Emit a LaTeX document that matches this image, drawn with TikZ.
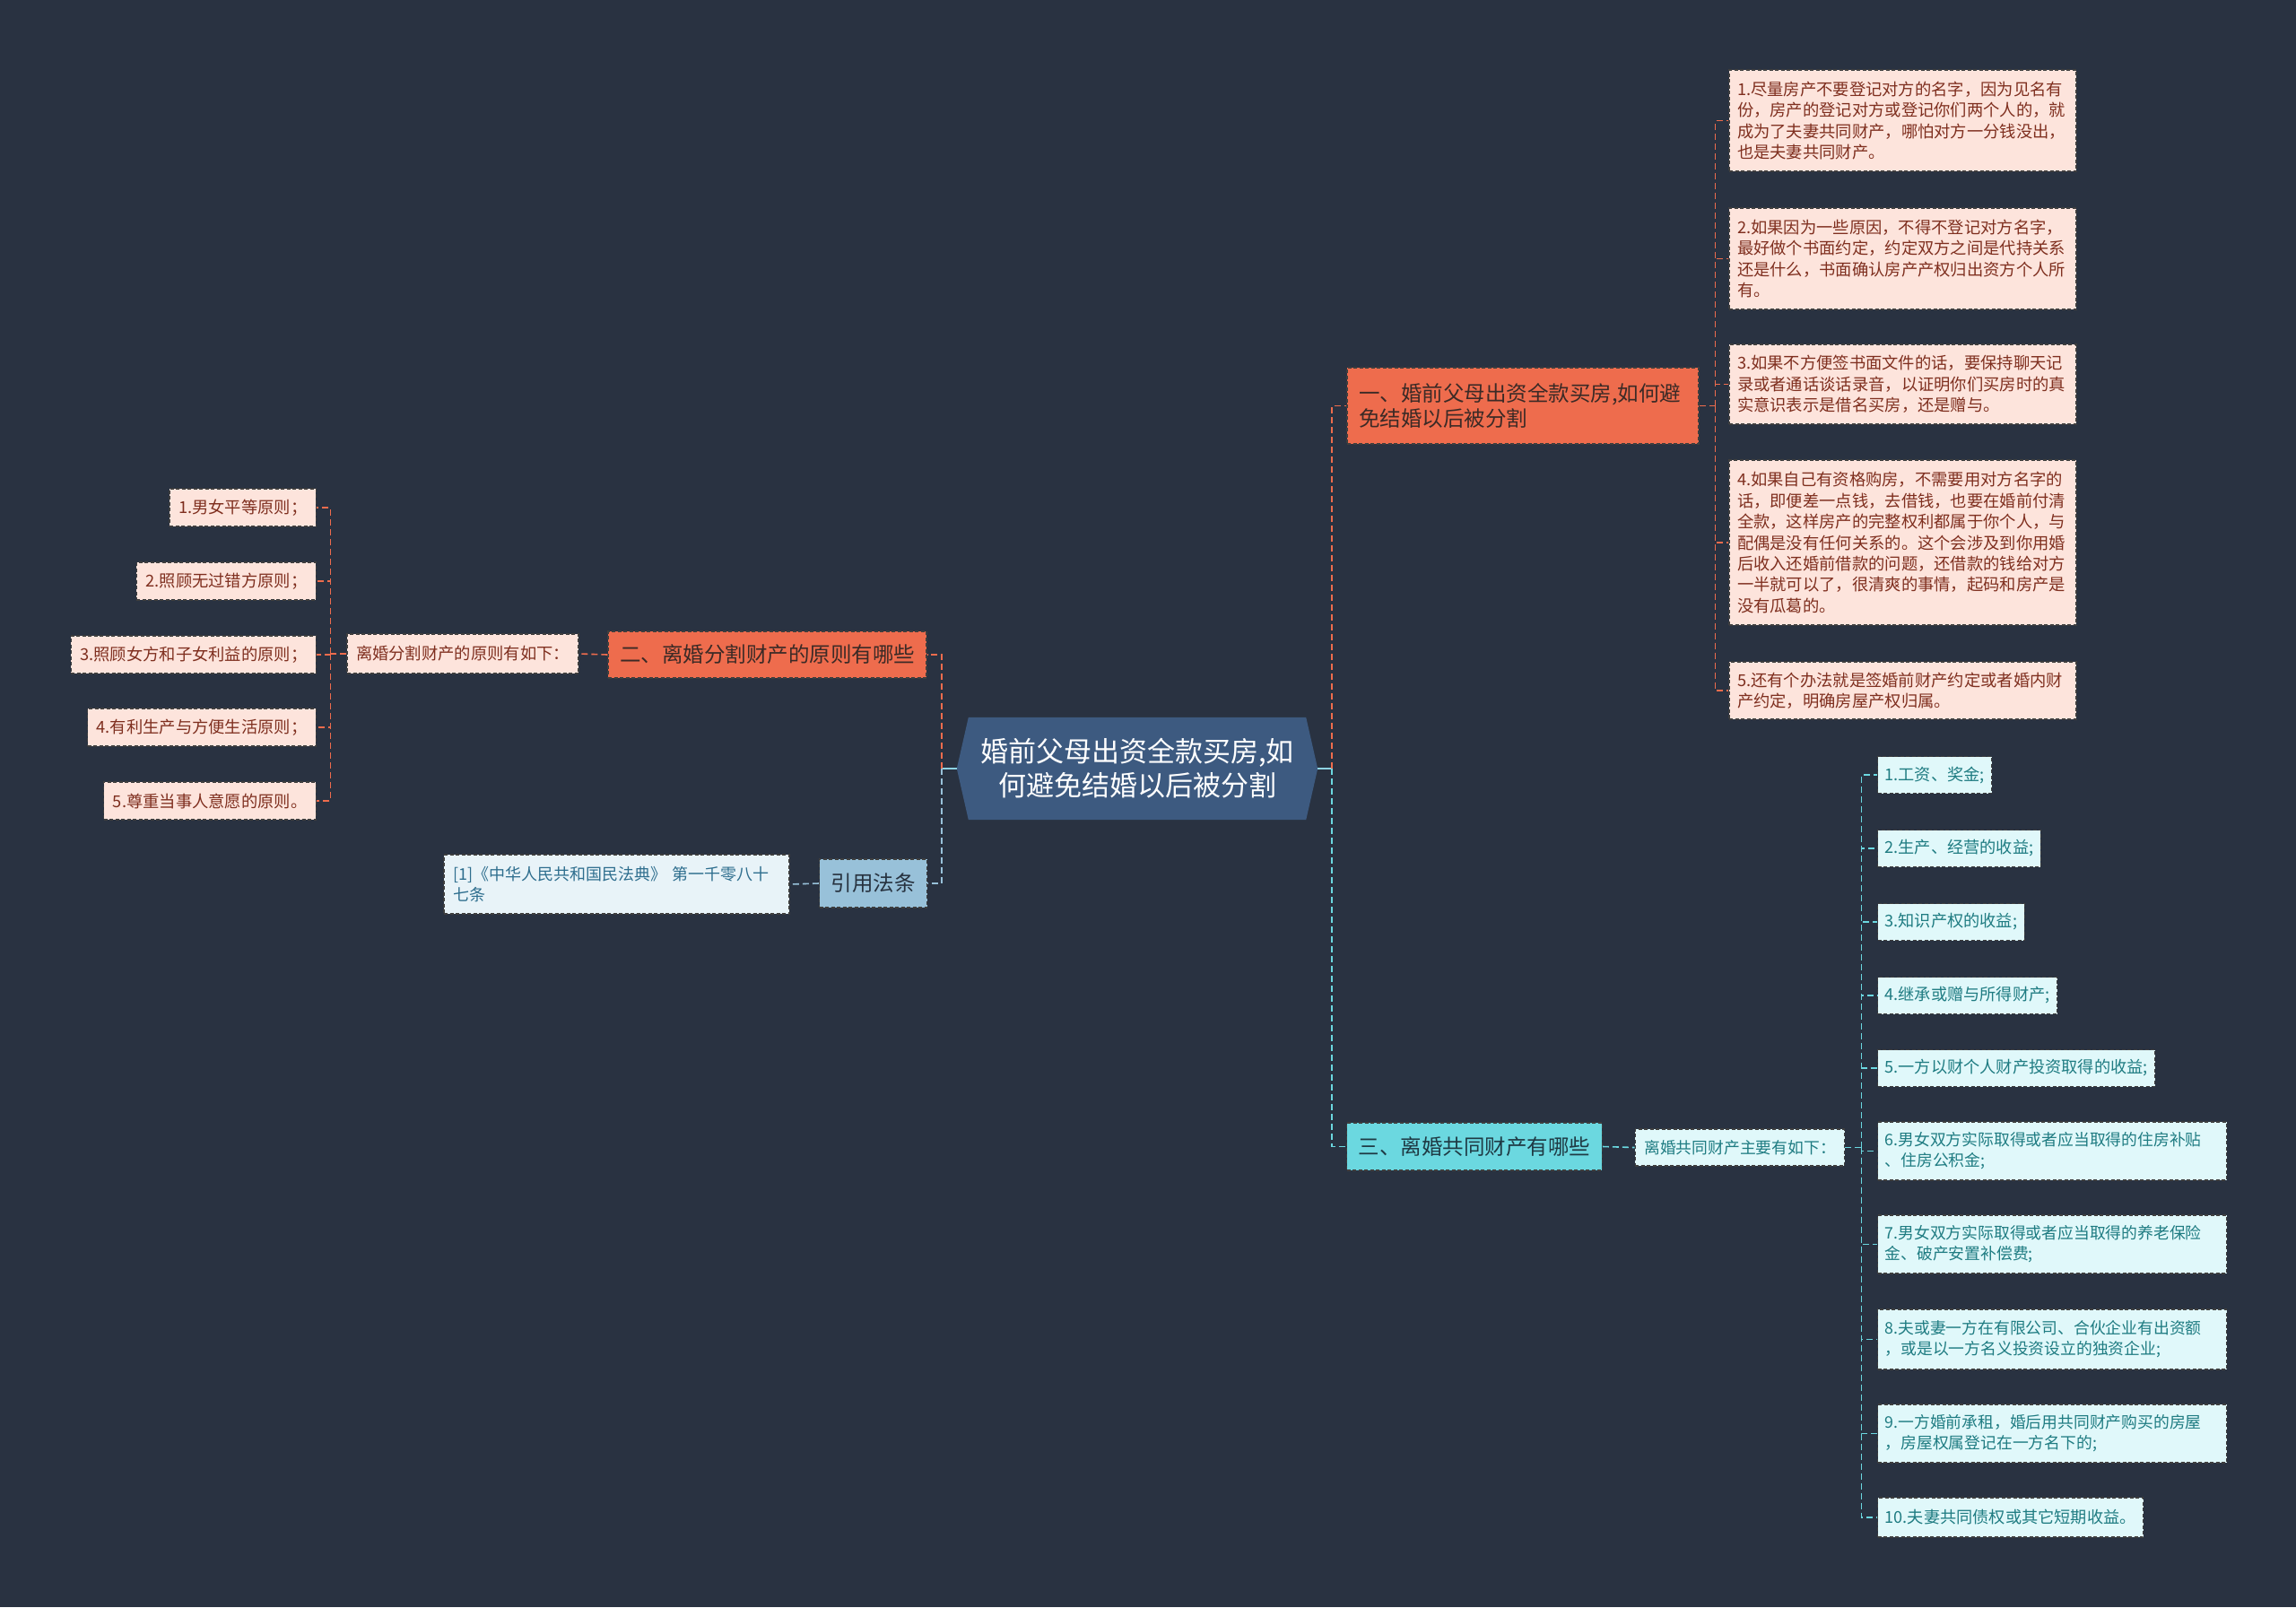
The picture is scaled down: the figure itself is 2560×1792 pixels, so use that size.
\documentclass[tikz,border=0pt]{standalone}
\usepackage{fontspec}
\setmainfont{Noto Sans CJK SC}
\usetikzlibrary{backgrounds,calc}
\definecolor{bgc}{HTML}{293241}
\definecolor{hexc}{HTML}{3D5A80}
\definecolor{orc}{HTML}{EE6C4D}
\definecolor{pinkc}{HTML}{FDE4DC}
\definecolor{pinktxt}{HTML}{7F2F1F}
\definecolor{ortxt}{HTML}{3B2A26}
\definecolor{cyc}{HTML}{6BD8E0}
\definecolor{cytxt}{HTML}{1F3A44}
\definecolor{lcyc}{HTML}{E0F8FA}
\definecolor{lcytxt}{HTML}{1F7C82}
\definecolor{blc}{HTML}{98C1D9}
\definecolor{bltxt}{HTML}{27323F}
\definecolor{citec}{HTML}{E8F3F8}
\definecolor{citetxt}{HTML}{2E6E8E}
\definecolor{bordc}{HTML}{3E3E3E}
\definecolor{hexln}{HTML}{8ED3E3}
\begin{document}
\begin{tikzpicture}[x=1pt,y=-1pt,
  box/.style={draw=bordc, dash pattern=on 4pt off 2.5pt, line width=1.2pt, inner ysep=0pt, inner xsep=10pt, align=left},
  pinkbox/.style={box, fill=pinkc, text=pinktxt, font=\fontsize{18.3}{23.4}\selectfont},
  lpink/.style={pinkbox, anchor=east, minimum height=42pt},
  rpink/.style={pinkbox, inner xsep=9pt, text width=369pt},
  lcybox/.style={box, fill=lcyc, text=lcytxt, font=\fontsize{18.2}{23}\selectfont, anchor=west, inner xsep=8pt},
  lcymulti/.style={lcybox, font=\fontsize{17.8}{23}\selectfont, text width=373pt},
  mainbox/.style={box, inner xsep=13pt, font=\fontsize{23.5}{28}\selectfont},
  hexnode/.style={inner sep=0pt, minimum width=376pt, minimum height=114pt, text=white, align=center, font=\fontsize{31}{38}\selectfont},
  oline/.style={draw=orc, line width=1.6pt, dash pattern=on 7pt off 4pt},
  cline/.style={draw=cyc, line width=1.6pt, dash pattern=on 7pt off 4pt},
  bline/.style={draw=blc, line width=1.6pt, dash pattern=on 7pt off 4pt},
  hexline/.style={draw=hexln, line width=2pt}
]
\useasboundingbox (0,0) rectangle (2560,1792);

% central topic
\node[hexnode] (c) at (1268,857) {婚前父母出资全款买房,如\\何避免结婚以后被分割};

% first-level topics
\node[mainbox, fill=orc, text=ortxt, text width=366pt, minimum height=85pt] (n1) at (1698,452.5)
  {一、婚前父母出资全款买房,如何避\\免结婚以后被分割};
\node[mainbox, fill=orc, text=ortxt, minimum height=52pt] (n2) at (855.5,730) {二、离婚分割财产的原则有哪些};
\node[mainbox, fill=cyc, text=cytxt, minimum height=53pt] (n3) at (1644,1278.5) {三、离婚共同财产有哪些};
\node[mainbox, fill=blc, text=bltxt, minimum height=54pt] (law) at (973.5,985) {引用法条};

% branch 1 children
\node[rpink, minimum height=113pt] (r1) at (2121.5,134.5)
  {1.尽量房产不要登记对方的名字，因为见名有\\份，房产的登记对方或登记你们两个人的，就\\成为了夫妻共同财产，哪怕对方一分钱没出，\\也是夫妻共同财产。};
\node[rpink, minimum height=113pt] (r2) at (2121.5,288.5)
  {2.如果因为一些原因，不得不登记对方名字，\\最好做个书面约定，约定双方之间是代持关系\\还是什么，书面确认房产产权归出资方个人所\\有。};
\node[rpink, minimum height=89pt] (r3) at (2121.5,428.5)
  {3.如果不方便签书面文件的话，要保持聊天记\\录或者通话谈话录音，以证明你们买房时的真\\实意识表示是借名买房，还是赠与。};
\node[rpink, minimum height=184pt] (r4) at (2121.5,605)
  {4.如果自己有资格购房，不需要用对方名字的\\话，即便差一点钱，去借钱，也要在婚前付清\\全款，这样房产的完整权利都属于你个人，与\\配偶是没有任何关系的。这个会涉及到你用婚\\后收入还婚前借款的问题，还借款的钱给对方\\一半就可以了，很清爽的事情，起码和房产是\\没有瓜葛的。};
\node[rpink, minimum height=64pt] (r5) at (2121.5,770)
  {5.还有个办法就是签婚前财产约定或者婚内财\\产约定，明确房屋产权归属。};

% branch 2
\node[pinkbox, minimum height=44pt] (p2) at (516,729) {离婚分割财产的原则有如下：};
\node[lpink] (l1) at (353,566) {1.男女平等原则；};
\node[lpink] (l2) at (353,648) {2.照顾无过错方原则；};
\node[lpink] (l3) at (353,730) {3.照顾女方和子女利益的原则；};
\node[lpink] (l4) at (353,811) {4.有利生产与方便生活原则；};
\node[lpink] (l5) at (353,893) {5.尊重当事人意愿的原则。};

% citation
\node[box, fill=citec, text=citetxt, font=\fontsize{18}{23}\selectfont, text width=365pt, minimum height=66pt] (cite) at (687.5,986)
  {[1]《中华人民共和国民法典》 第一千零八十\\七条};

% branch 3
\node[box, fill=lcyc, text=lcytxt, font=\fontsize{17.8}{23}\selectfont, minimum height=41pt] (p3) at (1940,1279.5) {离婚共同财产主要有如下：};
\node[lcybox, minimum height=41pt] (s1) at (2093,864) {1.工资、奖金;};
\node[lcybox, minimum height=41pt] (s2) at (2093,946) {2.生产、经营的收益;};
\node[lcybox, minimum height=41pt] (s3) at (2093,1028) {3.知识产权的收益;};
\node[lcybox, minimum height=41pt] (s4) at (2093,1110) {4.继承或赠与所得财产;};
\node[lcybox, minimum height=41pt] (s5) at (2093,1191) {5.一方以财个人财产投资取得的收益;};
\node[lcymulti, minimum height=65pt] (s6) at (2093,1283.5) {6.男女双方实际取得或者应当取得的住房补贴\\、住房公积金;};
\node[lcymulti, minimum height=65pt] (s7) at (2093,1387.5) {7.男女双方实际取得或者应当取得的养老保险\\金、破产安置补偿费;};
\node[lcymulti, minimum height=67pt] (s8) at (2093,1493.5) {8.夫或妻一方在有限公司、合伙企业有出资额\\，或是以一方名义投资设立的独资企业;};
\node[lcymulti, minimum height=65pt] (s9) at (2093,1598.5) {9.一方婚前承租，婚后用共同财产购买的房屋\\，房屋权属登记在一方名下的;};
\node[lcybox, minimum height=44pt] (s10) at (2093,1692) {10.夫妻共同债权或其它短期收益。};

% background and hexagon
\begin{scope}[on background layer]
  \fill[bgc] (0,0) rectangle (2560,1792);
  \fill[hexc] (c.north west) -- (c.north east) -- ($(c.east)+(13,0)$) -- (c.south east)
    -- (c.south west) -- ($(c.west)+(-13,0)$) -- cycle;
\end{scope}

% connectors from centre
\coordinate (cL) at ($(c.west)+(-13,0)$);
\coordinate (cR) at ($(c.east)+(13,0)$);
\draw[hexline] (cL) -- ++(-17,0) coordinate (tl);
\draw[hexline] (cR) -- ++(16,0) coordinate (tr);
\draw[oline] (tl) |- (n2.east);
\draw[bline] (tl) |- (law.east);
\draw[oline] (tr) |- (n1.west);
\draw[cline] (tr) |- (n3.west);

% branch 1
\draw[oline] (n1.east) -- ++(18,0) coordinate (t1);
\foreach \k in {r1,r2,r3,r4,r5} \draw[oline] (t1) |- (\k.west);

% branch 2
\draw[oline] (n2.west) -- (p2.east);
\draw[oline] (p2.west) -- ++(-18,0) coordinate (t2);
\foreach \k in {l1,l2,l3,l4,l5} \draw[oline] (t2) |- (\k.east);

% citation
\draw[bline] (law.west) -- (cite.east);

% branch 3
\draw[cline] (n3.east) -- (p3.west);
\draw[cline] (p3.east) -- ++(18,0) coordinate (t3);
\foreach \k in {s1,s2,s3,s4,s5,s6,s7,s8,s9,s10} \draw[cline] (t3) |- (\k.west);
\end{tikzpicture}
\end{document}
